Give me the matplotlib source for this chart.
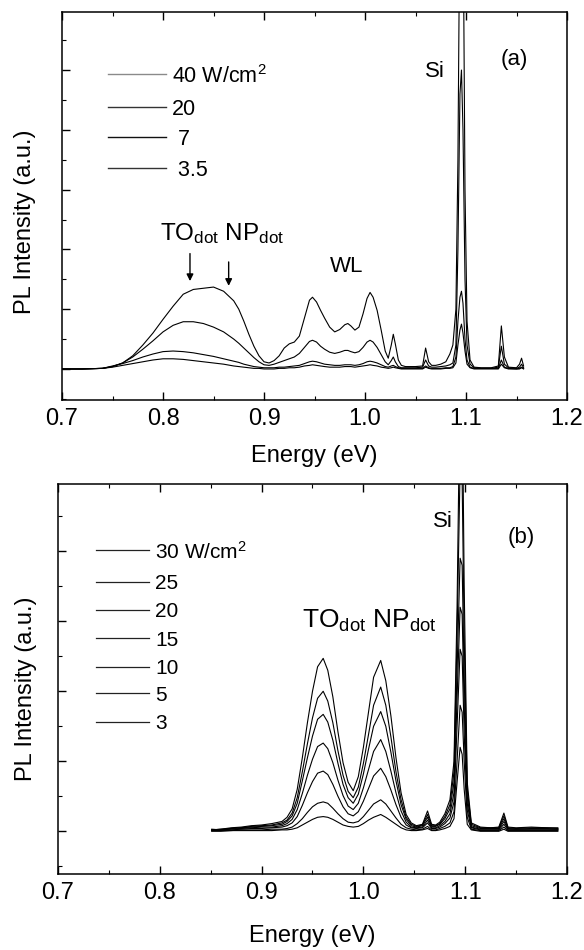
import matplotlib
matplotlib.use("Agg")
import matplotlib.pyplot as plt
from matplotlib.ticker import MultipleLocator, NullFormatter

plt.rcParams['font.family'] = ['Liberation Sans', 'DejaVu Sans']
plt.rcParams['mathtext.fontset'] = 'custom'
plt.rcParams['mathtext.rm'] = 'Liberation Sans'
plt.rcParams['mathtext.it'] = 'Liberation Sans:italic'
plt.rcParams['mathtext.bf'] = 'Liberation Sans:bold'

# ---------------- panel (a) data ----------------
E_a = [0.700, 0.720, 0.740, 0.750, 0.760, 0.770, 0.780, 0.790, 0.800, 0.810,
       0.820, 0.830, 0.840, 0.850, 0.860, 0.870, 0.875, 0.880, 0.885, 0.890,
       0.895, 0.900, 0.905, 0.910, 0.915, 0.920, 0.925, 0.930, 0.935, 0.940,
       0.945, 0.948, 0.952, 0.956, 0.960, 0.965, 0.970, 0.975, 0.980, 0.983,
       0.986, 0.990, 0.994, 0.998, 1.002, 1.005, 1.008, 1.012, 1.016, 1.020,
       1.023, 1.026, 1.028, 1.030, 1.033, 1.036, 1.040, 1.050, 1.057, 1.060,
       1.063, 1.066, 1.070, 1.075, 1.080, 1.084, 1.087, 1.090, 1.092, 1.094,
       1.0955, 1.097, 1.099, 1.101, 1.104, 1.108, 1.115, 1.125, 1.132, 1.135,
       1.138, 1.142, 1.150, 1.153, 1.155, 1.157]

I_a_40 = [0.00, 0.00, 0.01, 0.04, 0.10, 0.22, 0.40, 0.60, 0.83, 1.05,
          1.25, 1.33, 1.35, 1.37, 1.30, 1.14, 1.00, 0.80, 0.58, 0.38,
          0.22, 0.12, 0.10, 0.14, 0.22, 0.35, 0.42, 0.45, 0.55, 0.85,
          1.15, 1.20, 1.12, 0.98, 0.85, 0.70, 0.62, 0.66, 0.74, 0.76,
          0.72, 0.65, 0.70, 0.92, 1.18, 1.28, 1.20, 0.98, 0.65, 0.30,
          0.18, 0.40, 0.58, 0.42, 0.15, 0.06, 0.04, 0.04, 0.05, 0.35,
          0.12, 0.06, 0.06, 0.08, 0.12, 0.25, 0.40, 1.00, 3.50, 8.00,
          9.00, 8.00, 3.00, 0.80, 0.15, 0.03, 0.02, 0.02, 0.05, 0.72,
          0.20, 0.03, 0.02, 0.08, 0.18, 0.05]

I_a_20 = [0.00, 0.00, 0.01, 0.04, 0.10, 0.20, 0.33, 0.47, 0.62, 0.73,
          0.79, 0.79, 0.76, 0.70, 0.62, 0.50, 0.43, 0.35, 0.27, 0.19,
          0.12, 0.07, 0.06, 0.08, 0.11, 0.14, 0.17, 0.20, 0.26, 0.36,
          0.46, 0.48, 0.45, 0.38, 0.33, 0.28, 0.26, 0.28, 0.31, 0.31,
          0.29, 0.27, 0.29, 0.36, 0.45, 0.48, 0.45, 0.36, 0.24, 0.12,
          0.07, 0.14, 0.20, 0.12, 0.04, 0.02, 0.02, 0.02, 0.03, 0.15,
          0.05, 0.03, 0.03, 0.04, 0.05, 0.07, 0.10, 0.40, 2.00, 4.60,
          5.00, 4.00, 1.50, 0.40, 0.08, 0.02, 0.01, 0.01, 0.03, 0.38,
          0.08, 0.02, 0.01, 0.03, 0.08, 0.02]

I_a_7 = [0.00, 0.00, 0.01, 0.05, 0.09, 0.14, 0.20, 0.25, 0.29, 0.30,
         0.29, 0.27, 0.24, 0.21, 0.17, 0.13, 0.11, 0.08, 0.06, 0.04,
         0.03, 0.02, 0.02, 0.02, 0.03, 0.03, 0.04, 0.05, 0.06, 0.09,
         0.12, 0.13, 0.12, 0.10, 0.08, 0.07, 0.06, 0.06, 0.07, 0.07,
         0.07, 0.06, 0.07, 0.09, 0.12, 0.13, 0.12, 0.10, 0.07, 0.04,
         0.03, 0.05, 0.06, 0.04, 0.02, 0.01, 0.01, 0.01, 0.01, 0.05,
         0.02, 0.01, 0.01, 0.01, 0.02, 0.02, 0.04, 0.20, 0.80, 1.20,
         1.30, 1.10, 0.50, 0.15, 0.03, 0.01, 0.01, 0.01, 0.01, 0.15,
         0.03, 0.01, 0.00, 0.01, 0.03, 0.01]

I_a_35 = [0.00, 0.00, 0.01, 0.03, 0.06, 0.09, 0.12, 0.15, 0.17, 0.17,
          0.16, 0.14, 0.12, 0.10, 0.08, 0.05, 0.04, 0.03, 0.02, 0.01,
          0.01, 0.00, 0.00, 0.00, 0.01, 0.01, 0.02, 0.02, 0.03, 0.05,
          0.06, 0.07, 0.06, 0.05, 0.04, 0.03, 0.03, 0.03, 0.04, 0.04,
          0.04, 0.03, 0.04, 0.05, 0.06, 0.07, 0.06, 0.05, 0.03, 0.02,
          0.01, 0.02, 0.03, 0.02, 0.01, 0.00, 0.00, 0.00, 0.00, 0.03,
          0.01, 0.00, 0.00, 0.00, 0.01, 0.01, 0.02, 0.10, 0.40, 0.65,
          0.75, 0.60, 0.30, 0.08, 0.02, 0.00, 0.00, 0.00, 0.00, 0.08,
          0.02, 0.00, 0.00, 0.00, 0.02, 0.00]

labels_a = ["40 W/cm$^2$", "20", " 7", " 3.5"]
series_a = [I_a_40, I_a_20, I_a_7, I_a_35]
legend_colors_a = ['#8a8a8a', '#333333', '#111111', '#333333']

# ---------------- panel (b) data ----------------
E_b = [0.851, 0.860, 0.870, 0.880, 0.890, 0.900, 0.910, 0.920, 0.925, 0.930,
       0.935, 0.940, 0.945, 0.950, 0.955, 0.9605, 0.965, 0.970, 0.975, 0.980,
       0.985, 0.990, 0.995, 1.000, 1.005, 1.010, 1.017, 1.022, 1.027, 1.032,
       1.037, 1.042, 1.047, 1.052, 1.058, 1.063, 1.067, 1.071, 1.075, 1.080,
       1.085, 1.089, 1.092, 1.095, 1.097, 1.099, 1.102, 1.106, 1.115, 1.125,
       1.133, 1.138, 1.142, 1.150, 1.165, 1.180, 1.191]

I_b_30 = [0.02, 0.03, 0.05, 0.06, 0.08, 0.09, 0.11, 0.14, 0.20, 0.32,
          0.60, 1.05, 1.55, 2.00, 2.35, 2.47, 2.30, 1.92, 1.42, 0.98,
          0.70, 0.58, 0.78, 1.20, 1.70, 2.20, 2.44, 2.15, 1.65, 1.05,
          0.55, 0.24, 0.12, 0.08, 0.10, 0.29, 0.10, 0.09, 0.13, 0.25,
          0.45, 1.00, 3.20, 6.50, 6.50, 3.50, 0.70, 0.12, 0.06, 0.05,
          0.06, 0.26, 0.06, 0.05, 0.06, 0.05, 0.05]
I_b_25 = [0.03, 0.02, 0.04, 0.05, 0.07, 0.08, 0.09, 0.12, 0.16, 0.26,
          0.48, 0.85, 1.25, 1.62, 1.90, 2.00, 1.86, 1.55, 1.15, 0.80,
          0.57, 0.48, 0.63, 0.97, 1.38, 1.80, 2.06, 1.80, 1.35, 0.85,
          0.45, 0.20, 0.10, 0.07, 0.09, 0.24, 0.08, 0.08, 0.11, 0.21,
          0.38, 0.85, 2.80, 5.20, 5.00, 2.80, 0.60, 0.10, 0.05, 0.05,
          0.05, 0.22, 0.05, 0.04, 0.05, 0.05, 0.04]
I_b_20 = [0.02, 0.03, 0.04, 0.05, 0.06, 0.07, 0.08, 0.10, 0.14, 0.22,
          0.40, 0.72, 1.05, 1.36, 1.60, 1.67, 1.56, 1.30, 0.97, 0.67,
          0.48, 0.40, 0.53, 0.82, 1.17, 1.50, 1.71, 1.50, 1.13, 0.72,
          0.38, 0.17, 0.08, 0.06, 0.08, 0.20, 0.07, 0.07, 0.10, 0.18,
          0.32, 0.70, 2.30, 3.90, 3.80, 2.20, 0.50, 0.08, 0.04, 0.04,
          0.04, 0.18, 0.04, 0.03, 0.04, 0.04, 0.03]
I_b_15 = [0.02, 0.02, 0.03, 0.04, 0.05, 0.06, 0.06, 0.08, 0.11, 0.17,
          0.31, 0.54, 0.80, 1.03, 1.21, 1.26, 1.18, 0.98, 0.73, 0.51,
          0.36, 0.31, 0.40, 0.62, 0.88, 1.14, 1.31, 1.14, 0.86, 0.55,
          0.29, 0.13, 0.06, 0.05, 0.06, 0.16, 0.05, 0.05, 0.08, 0.14,
          0.25, 0.55, 1.90, 3.20, 3.10, 1.80, 0.40, 0.06, 0.03, 0.03,
          0.03, 0.14, 0.03, 0.03, 0.03, 0.03, 0.03]
I_b_10 = [0.01, 0.02, 0.02, 0.03, 0.04, 0.04, 0.05, 0.06, 0.08, 0.12,
          0.21, 0.37, 0.55, 0.71, 0.83, 0.86, 0.81, 0.67, 0.50, 0.35,
          0.25, 0.22, 0.28, 0.43, 0.61, 0.79, 0.90, 0.78, 0.59, 0.38,
          0.20, 0.09, 0.05, 0.04, 0.05, 0.12, 0.04, 0.04, 0.06, 0.11,
          0.19, 0.42, 1.50, 2.60, 2.50, 1.40, 0.30, 0.05, 0.02, 0.02,
          0.02, 0.10, 0.02, 0.02, 0.02, 0.02, 0.02]
I_b_5 = [0.01, 0.01, 0.01, 0.02, 0.02, 0.02, 0.03, 0.03, 0.04, 0.06,
         0.11, 0.18, 0.27, 0.35, 0.40, 0.42, 0.40, 0.33, 0.25, 0.18,
         0.13, 0.12, 0.14, 0.21, 0.30, 0.39, 0.45, 0.39, 0.29, 0.19,
         0.10, 0.05, 0.03, 0.02, 0.03, 0.07, 0.02, 0.02, 0.04, 0.07,
         0.12, 0.28, 1.00, 1.80, 1.70, 1.00, 0.20, 0.03, 0.01, 0.01,
         0.01, 0.06, 0.01, 0.01, 0.01, 0.01, 0.01]
I_b_3 = [0.00, 0.00, 0.01, 0.01, 0.01, 0.01, 0.01, 0.02, 0.02, 0.03,
         0.05, 0.09, 0.13, 0.17, 0.20, 0.21, 0.20, 0.17, 0.13, 0.09,
         0.07, 0.06, 0.07, 0.11, 0.16, 0.20, 0.24, 0.20, 0.15, 0.10,
         0.05, 0.02, 0.01, 0.01, 0.02, 0.04, 0.01, 0.01, 0.02, 0.04,
         0.07, 0.18, 0.70, 1.20, 1.10, 0.60, 0.10, 0.02, 0.00, 0.00,
         0.00, 0.03, 0.00, 0.00, 0.00, 0.00, 0.00]

labels_b = ["30 W/cm$^2$", "25", "20", "15", "10", "5", "3"]
series_b = [I_b_30, I_b_25, I_b_20, I_b_15, I_b_10, I_b_5, I_b_3]

# ---------------- figure ----------------
fig = plt.figure(figsize=(5.84, 9.5), dpi=100)
ax1 = fig.add_axes([0.1062, 0.5789, 0.8647, 0.4084])
ax2 = fig.add_axes([0.0993, 0.0800, 0.8716, 0.4105])

def style_axis(ax, ylim, ymax_tick):
    ax.set_xlim(0.7, 1.2)
    ax.set_ylim(*ylim)
    ax.xaxis.set_minor_locator(MultipleLocator(0.05))
    ax.set_yticks(list(range(0, ymax_tick + 1)))
    ax.yaxis.set_minor_locator(MultipleLocator(0.5))
    ax.yaxis.set_major_formatter(NullFormatter())
    ax.set_xticks([0.7, 0.8, 0.9, 1.0, 1.1, 1.2])
    ax.set_xticklabels(["0.7", "0.8", "0.9", "1.0", "1.1", "1.2"])
    ax.tick_params(axis='both', which='major', direction='in', length=6,
                   width=1.0, labelsize=17, pad=6, top=True, right=False)
    ax.tick_params(axis='both', which='minor', direction='in', length=3,
                   width=0.8, top=True, right=False)
    for s in ax.spines.values():
        s.set_linewidth(1.1)
    ax.set_xlabel("Energy (eV)", fontsize=17)
    ax.set_ylabel("PL Intensity (a.u.)", fontsize=17)

# panel (a)
for ser in series_a:
    ax1.plot(E_a, ser, color='black', lw=0.8)
style_axis(ax1, (-0.52, 5.97), 5)
ax1.xaxis.set_label_coords(0.5, -0.115)
ax1.yaxis.set_label_coords(-0.052, 0.46)

leg_y_a = [0.840, 0.755, 0.678, 0.598]
for lab, yy, col in zip(labels_a, leg_y_a, legend_colors_a):
    ax1.plot([0.091, 0.206], [yy, yy], transform=ax1.transAxes,
             color=col, lw=1.0)
    ax1.text(0.218, yy, lab, transform=ax1.transAxes, fontsize=15.5,
             ha='left', va='center_baseline')

ax1.text(1.069, 4.97, "Si", fontsize=16, ha='center', va='center')
ax1.text(1.1475, 5.17, "(a)", fontsize=16, ha='center', va='center')
ax1.text(0.797, 2.16, r"TO$_{\rm dot}$ NP$_{\rm dot}$", fontsize=17.5,
         ha='left', va='baseline')
ax1.text(0.982, 1.71, "WL", fontsize=16, ha='center', va='center')
ax1.annotate("", xy=(0.8267, 1.47), xytext=(0.8267, 1.93),
             arrowprops=dict(arrowstyle='-|>', color='black', lw=1.0,
                             mutation_scale=10, shrinkA=0, shrinkB=0))
ax1.annotate("", xy=(0.865, 1.39), xytext=(0.865, 1.79),
             arrowprops=dict(arrowstyle='-|>', color='black', lw=1.0,
                             mutation_scale=10, shrinkA=0, shrinkB=0))

# panel (b)
for ser in series_b:
    ax2.plot(E_b, ser, color='black', lw=0.8)
style_axis(ax2, (-0.61, 4.96), 4)
ax2.xaxis.set_label_coords(0.5, -0.13)
ax2.yaxis.set_label_coords(-0.042, 0.475)

leg_y_b = [0.831, 0.749, 0.677, 0.605, 0.531, 0.464, 0.390]
for lab, yy in zip(labels_b, leg_y_b):
    ax2.plot([0.075, 0.179], [yy, yy], transform=ax2.transAxes,
             color='#222222', lw=0.9)
    ax2.text(0.191, yy, lab, transform=ax2.transAxes, fontsize=15,
             ha='left', va='center_baseline')

ax2.text(1.078, 4.43, "Si", fontsize=16, ha='center', va='center')
ax2.text(1.155, 4.20, "(b)", fontsize=16, ha='center', va='center')
ax2.text(0.9397, 2.90, r"TO$_{\rm dot}$ NP$_{\rm dot}$", fontsize=19,
         ha='left', va='baseline')

fig.savefig("out.png", dpi=100)
